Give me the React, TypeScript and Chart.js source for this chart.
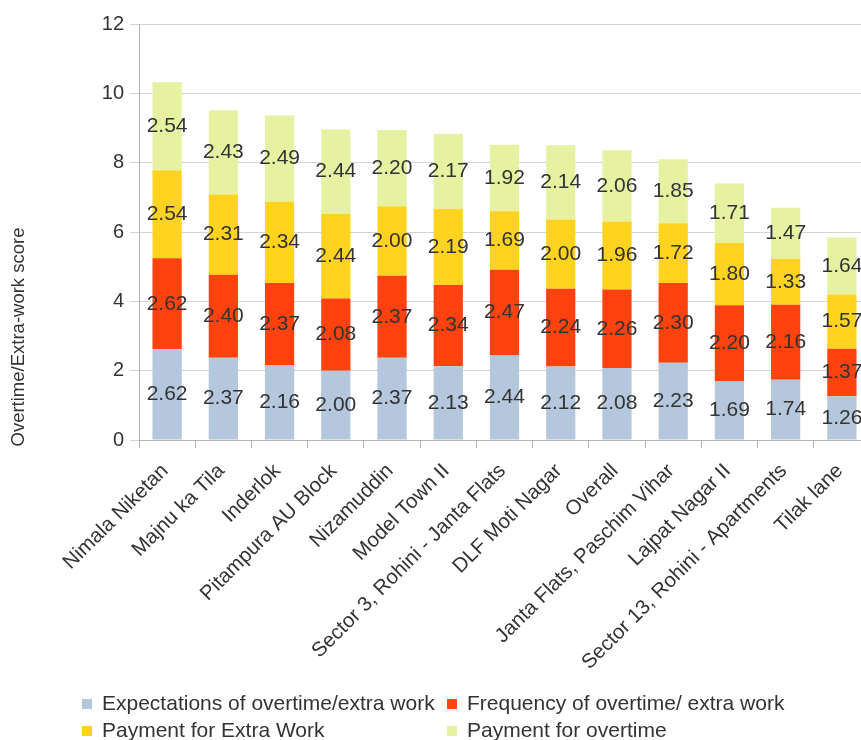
import React, { useEffect, useRef } from "react";
import { Chart, registerables } from "chart.js";

Chart.register(...registerables);

// Locations, ordered by total score
const categories = [
  "Nimala Niketan",
  "Majnu ka Tila",
  "Inderlok",
  "Pitampura AU Block",
  "Nizamuddin",
  "Model Town II",
  "Sector 3, Rohini - Janta Flats",
  "DLF Moti Nagar",
  "Overall",
  "Janta Flats, Paschim Vihar",
  "Lajpat Nagar II",
  "Sector 13, Rohini - Apartments",
  "Tilak lane",
];

const expectations = [2.62, 2.37, 2.16, 2.0, 2.37, 2.13, 2.44, 2.12, 2.08, 2.23, 1.69, 1.74, 1.26];
const frequency = [2.62, 2.4, 2.37, 2.08, 2.37, 2.34, 2.47, 2.24, 2.26, 2.3, 2.2, 2.16, 1.37];
const paymentExtraWork = [2.54, 2.31, 2.34, 2.44, 2.0, 2.19, 1.69, 2.0, 1.96, 1.72, 1.8, 1.33, 1.57];
const paymentOvertime = [2.54, 2.43, 2.49, 2.44, 2.2, 2.17, 1.92, 2.14, 2.06, 1.85, 1.71, 1.47, 1.64];

const seriesNames = [
  "Expectations of overtime/extra work",
  "Frequency of overtime/ extra work",
  "Payment for Extra Work",
  "Payment for overtime",
];
const seriesColors = ["#b4c7dc", "#ff420e", "#ffd320", "#e6f2a2"];

const yAxisTitle = "Overtime/Extra-work score";

const FONT = "'Liberation Sans', Arial, sans-serif";
const TEXT = "#333333";

// Value of each segment, written in the middle of the segment
const segmentLabels = {
  id: "segmentLabels",
  afterDatasetsDraw(chart: any) {
    const ctx = chart.ctx;
    ctx.save();
    ctx.font = `21px ${FONT}`;
    ctx.fillStyle = TEXT;
    ctx.textAlign = "center";
    ctx.textBaseline = "middle";
    chart.data.datasets.forEach((ds: any, i: number) => {
      const meta = chart.getDatasetMeta(i);
      meta.data.forEach((bar: any, j: number) => {
        const { x, y, base } = bar.getProps(["x", "y", "base"], true);
        ctx.fillText(Number(ds.data[j]).toFixed(2), x, (y + base) / 2);
      });
    });
    ctx.restore();
  },
};

// Vertical axis title, placed at the left edge
const axisTitle = {
  id: "axisTitle",
  afterDraw(chart: any) {
    const ctx = chart.ctx;
    ctx.save();
    ctx.translate(19, 337);
    ctx.rotate(-Math.PI / 2);
    ctx.font = `18.5px ${FONT}`;
    ctx.fillStyle = TEXT;
    ctx.textAlign = "center";
    ctx.textBaseline = "middle";
    ctx.fillText(yAxisTitle, 0, 0);
    ctx.restore();
  },
};

// Two-column legend under the category labels
const gridLegend = {
  id: "gridLegend",
  afterDraw(chart: any) {
    const ctx = chart.ctx;
    const colX = [82, 447];
    const rowY = [704, 731];
    ctx.save();
    ctx.font = `21px ${FONT}`;
    ctx.textAlign = "left";
    ctx.textBaseline = "middle";
    chart.data.datasets.forEach((ds: any, i: number) => {
      const x = colX[i % 2];
      const y = rowY[Math.floor(i / 2)];
      ctx.fillStyle = ds.backgroundColor;
      ctx.fillRect(x, y - 5, 10, 10);
      ctx.fillStyle = TEXT;
      ctx.fillText(ds.label, x + 20, y);
    });
    ctx.restore();
  },
};

export default function App() {
  const canvasRef = useRef<HTMLCanvasElement | null>(null);

  useEffect(() => {
    const canvas = canvasRef.current;
    if (!canvas) return;
    const series = [expectations, frequency, paymentExtraWork, paymentOvertime];
    const chart = new Chart(canvas, {
      type: "bar",
      data: {
        labels: categories,
        datasets: series.map((data, i) => ({
          label: seriesNames[i],
          data,
          backgroundColor: seriesColors[i],
          borderWidth: 0,
          categoryPercentage: 1,
          barPercentage: 0.52,
        })),
      },
      options: {
        responsive: false,
        animation: false,
        layout: { padding: { top: 24, right: 10, left: 0, bottom: 0 } },
        plugins: {
          legend: { display: false },
          tooltip: { enabled: false },
        },
        scales: {
          x: {
            stacked: true,
            offset: true,
            grid: {
              offset: true,
              drawOnChartArea: false,
              drawTicks: true,
              tickLength: 8,
              color: "#b3b3b3",
            },
            border: { color: "#b3b3b3" },
            ticks: {
              autoSkip: false,
              maxRotation: 45,
              minRotation: 45,
              padding: 11,
              labelOffset: -2,
              color: TEXT,
              font: { family: FONT, size: 20.5 },
            },
            afterFit: (scale: any) => {
              scale.height = 300;
            },
          },
          y: {
            stacked: true,
            min: 0,
            max: 12,
            ticks: {
              stepSize: 2,
              padding: 6,
              color: TEXT,
              font: { family: FONT, size: 20 },
            },
            grid: { color: "#d4d4d4", tickLength: 9 },
            border: { color: "#b3b3b3" },
            afterFit: (scale: any) => {
              scale.width = 139;
            },
          },
        },
      },
      plugins: [segmentLabels, axisTitle, gridLegend],
    });
    return () => chart.destroy();
  }, []);

  return (
    <div
      style={{
        position: "absolute",
        left: 0,
        top: 0,
        width: 861,
        height: 740,
        overflow: "hidden",
        background: "#ffffff",
      }}
    >
      <canvas ref={canvasRef} width={880} height={740} style={{ width: 880, height: 740, display: "block" }} />
    </div>
  );
}
